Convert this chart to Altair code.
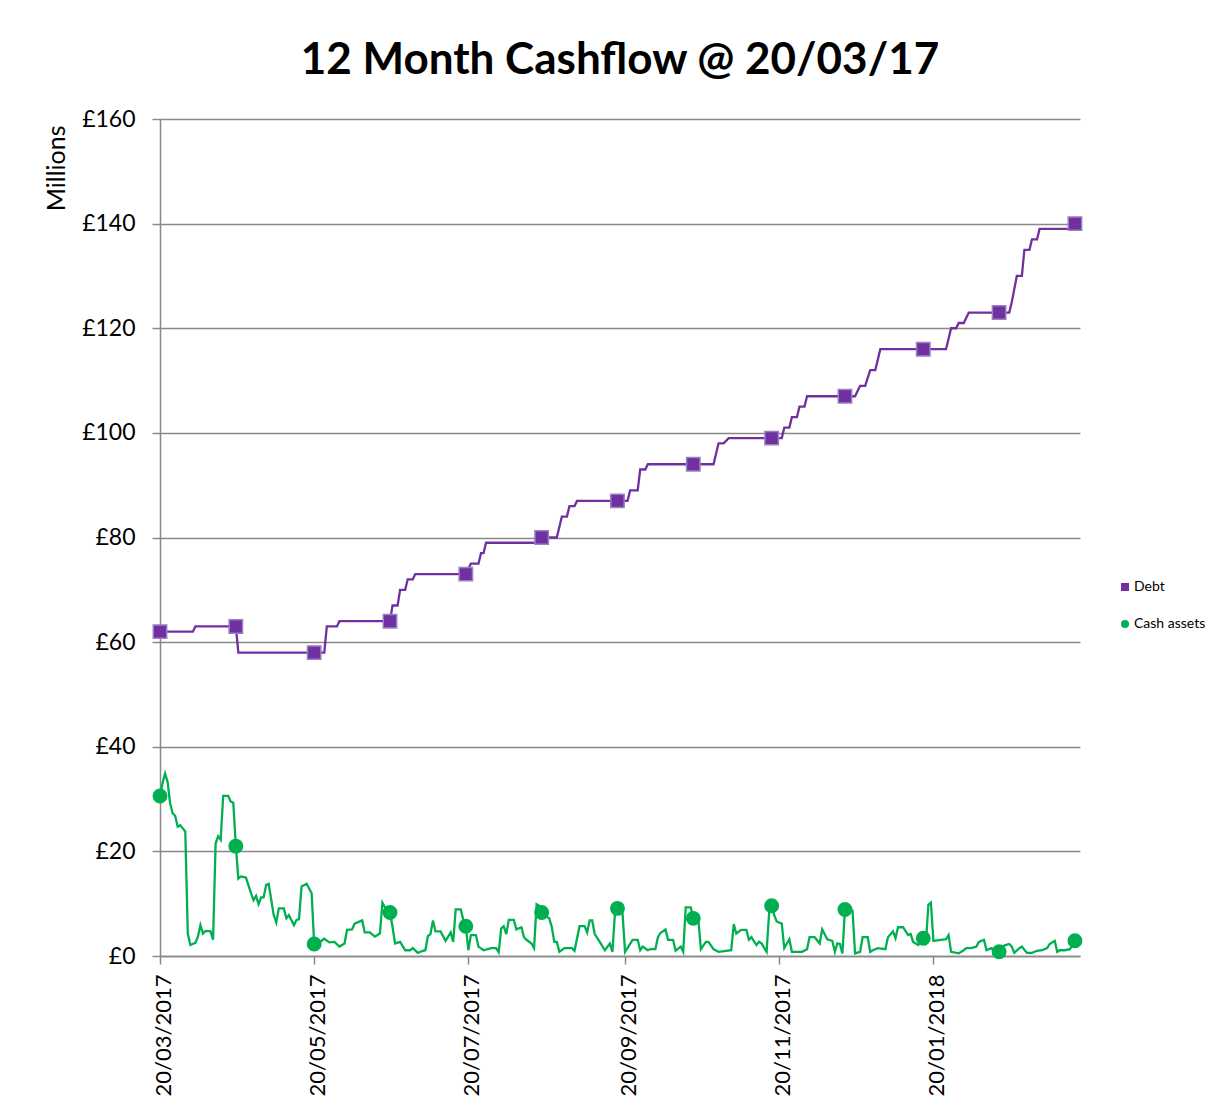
import altair as alt
import pandas as pd

# ---------------- data ----------------
start_date = "2017-03-20"
axis_end_date = "2018-03-19"
tick_dates = ["2017-03-20", "2017-05-20", "2017-07-20", "2017-09-20", "2017-11-20", "2018-01-20"]
y_ticks = [0, 20, 40, 60, 80, 100, 120, 140, 160]

series_names = ["Debt", "Cash assets"]
series_colors = ["#7030A0", "#00B050"]
marker_edge_colors = ["#9B7FC4", "#00B050"]
marker_shapes = ["square", "circle"]

# days (offset from start_date) on which a marker is drawn
marker_days = [0, 30, 61, 91, 121, 151, 181, 211, 242, 271, 302, 332, 362]

# Debt (GBP millions) - vertices of the step line
debt_days = [
    0, 13, 14, 30, 31, 61, 65, 66, 70, 71,
    91, 92, 94, 95, 97, 98, 100, 101, 121, 123,
    126, 127, 128, 129, 150, 151, 157, 159, 161, 162,
    164, 165, 181, 185, 186, 189, 190, 192, 193, 211,
    219, 221, 223, 225, 242, 246, 247, 249, 250, 252,
    253, 255, 256, 271, 275, 277, 279, 281, 283, 285,
    302, 311, 313, 315, 316, 318, 320, 332, 336, 337,
    339, 341, 342, 344, 345, 347, 348, 360, 362,
]
debt_values = [
    62, 62, 63, 63, 58, 58, 58, 63, 63, 64,
    64, 67, 67, 70, 70, 72, 72, 73, 73, 75,
    75, 77, 77, 79, 79, 80, 80, 84, 84, 86,
    86, 87, 87, 87, 89, 89, 93, 93, 94, 94,
    94, 98, 98, 99, 99, 99, 101, 101, 103, 103,
    105, 105, 107, 107, 107, 109, 109, 112, 112, 116,
    116, 116, 120, 120, 121, 121, 123, 123, 123, 125,
    130, 130, 135, 135, 137, 137, 139, 139, 140,
]

# Cash assets (GBP millions)
cash_days = [
    0, 1, 2, 3, 4, 5, 6, 7, 8, 9,
    10, 11, 12, 14, 15, 16, 17, 18, 20, 21,
    22, 23, 24, 25, 27, 28, 29, 30, 31, 32,
    34, 36, 37, 38, 39, 40, 41, 42, 43, 45,
    46, 47, 49, 50, 51, 53, 54, 55, 56, 58,
    59, 60, 61, 63, 65, 67, 69, 71, 73, 74,
    76, 77, 80, 81, 83, 85, 87, 88, 89, 91,
    92, 93, 95, 97, 99, 100, 102, 104, 105, 106,
    107, 108, 109, 111, 113, 115, 116, 117, 119, 120,
    121, 122, 123, 125, 126, 128, 131, 133, 134, 135,
    136, 137, 138, 140, 141, 143, 144, 145, 147, 148,
    149, 150, 151, 154, 155, 156, 157, 158, 160, 163,
    164, 166, 168, 169, 170, 171, 172, 174, 176, 178,
    179, 180, 181, 182, 183, 184, 187, 189, 190, 191,
    193, 194, 196, 197, 198, 200, 201, 203, 204, 206,
    207, 208, 210, 211, 213, 214, 216, 217, 219, 221,
    226, 227, 228, 230, 232, 233, 234, 236, 237, 238,
    240, 241, 242, 243, 244, 246, 247, 249, 250, 254,
    256, 257, 259, 261, 262, 264, 266, 267, 268, 269,
    270, 271, 272, 274, 275, 277, 278, 280, 281, 282,
    284, 287, 288, 290, 291, 292, 294, 296, 297, 298,
    300, 302, 303, 304, 305, 306, 309, 311, 312, 313,
    316, 318, 319, 321, 323, 324, 326, 327, 329, 331,
    332, 334, 336, 337, 338, 340, 341, 343, 345, 347,
    349, 351, 352, 354, 355, 356, 358, 360, 361, 362,
]
cash_values = [
    30.6, 33.0, 34.9, 33.3, 29.2, 27.3, 26.8, 24.7, 25.0, 24.4,
    23.8, 4.3, 2.1, 2.5, 3.7, 5.9, 4.3, 4.8, 4.7, 3.1,
    21.5, 22.9, 22.2, 30.6, 30.6, 29.5, 29.3, 21.0, 14.8, 15.2,
    15.0, 12.0, 10.7, 11.5, 9.9, 11.2, 11.2, 13.6, 13.8, 7.8,
    6.4, 9.1, 9.1, 7.2, 7.8, 5.9, 6.9, 7.0, 13.3, 13.8,
    12.9, 12.0, 2.3, 2.6, 3.3, 2.6, 2.7, 1.8, 2.4, 5.0,
    5.1, 6.2, 6.8, 4.5, 4.5, 3.7, 4.3, 10.2, 9.3, 8.3,
    5.6, 2.4, 2.7, 1.1, 1.1, 1.5, 0.6, 1.0, 1.1, 3.8,
    4.2, 6.8, 4.7, 4.7, 2.9, 4.5, 2.7, 8.9, 8.9, 6.9,
    5.7, 1.1, 4.0, 4.0, 1.8, 1.1, 1.5, 1.5, 0.7, 5.3,
    5.7, 4.2, 6.9, 6.9, 5.1, 5.5, 3.6, 3.1, 2.4, 1.5,
    9.9, 9.6, 8.3, 7.2, 5.6, 2.7, 2.7, 0.8, 1.5, 1.5,
    1.0, 5.7, 5.7, 4.5, 6.8, 6.8, 4.2, 2.7, 1.1, 2.4,
    0.8, 8.2, 9.1, 8.4, 8.2, 0.8, 3.1, 3.1, 1.1, 1.8,
    1.1, 1.3, 1.3, 3.6, 4.4, 5.1, 3.1, 3.1, 1.0, 1.8,
    0.8, 9.3, 9.3, 7.2, 7.0, 1.3, 2.7, 2.7, 1.3, 0.8,
    1.1, 6.1, 4.3, 5.0, 5.0, 3.1, 3.6, 2.1, 2.7, 2.4,
    0.8, 8.2, 9.6, 7.8, 6.6, 6.2, 1.5, 3.2, 0.8, 0.8,
    1.3, 3.6, 3.6, 2.4, 5.1, 3.2, 2.9, 0.8, 2.4, 2.3,
    0.5, 8.9, 9.0, 8.7, 0.5, 0.8, 3.6, 3.6, 0.8, 1.1,
    1.5, 1.3, 3.6, 4.7, 3.4, 5.5, 5.5, 4.0, 4.2, 2.7,
    2.1, 3.4, 2.1, 9.8, 10.2, 2.9, 3.1, 3.2, 4.0, 0.8,
    0.5, 1.1, 1.5, 1.5, 1.8, 2.7, 3.1, 1.1, 1.5, 0.6,
    0.8, 2.0, 2.3, 1.8, 0.6, 1.5, 1.8, 0.6, 0.6, 1.0,
    1.1, 1.5, 2.3, 2.9, 0.8, 1.1, 1.1, 1.3, 2.1, 2.9,
]

# ---------------- build table ----------------
d0 = pd.Timestamp(start_date)


def frame(name, days, values):
    return pd.DataFrame({
        "date": [(d0 + pd.Timedelta(days=d)).strftime("%Y-%m-%d") for d in days],
        "value": values,
        "series": name,
        "marker": [d in marker_days for d in days],
    })


df = pd.concat([
    frame(series_names[0], debt_days, debt_values),
    frame(series_names[1], cash_days, cash_values),
], ignore_index=True)


def ms(s):
    return int(pd.Timestamp(s, tz="UTC").timestamp() * 1000)


FONT = "Lato"
GRID = "#898989"

x_enc = alt.X(
    "date:T",
    scale=alt.Scale(type="utc", domain=[ms(start_date), ms(axis_end_date)], nice=False),
    axis=alt.Axis(
        values=[ms(t) for t in tick_dates],
        labelExpr="utcFormat(datum.value, '%d/%m/%Y')",
        labelAngle=270,
        labelFontSize=22,
        labelFont=FONT,
        labelColor="black",
        labelPadding=10,
        labelOffset=3,
        labelOverlap=False,
        grid=False,
        domainColor=GRID,
        domainWidth=1.5,
        tickColor=GRID,
        tickWidth=1.5,
        tickSize=8,
        title=None,
    ),
)

y_enc = alt.Y(
    "value:Q",
    scale=alt.Scale(domain=[0, 160], nice=False, zero=True),
    axis=alt.Axis(
        values=y_ticks,
        labelExpr="'£' + datum.value",
        labelFontSize=23,
        labelFont=FONT,
        labelColor="black",
        labelPadding=17,
        grid=True,
        gridColor=GRID,
        gridWidth=1.5,
        domainColor=GRID,
        domainWidth=1.5,
        tickColor=GRID,
        tickWidth=1.5,
        tickSize=8,
        title="Millions",
        titleFont=FONT,
        titleFontSize=25,
        titleFontWeight="normal",
        titleColor="black",
        titleAnchor="end",
        titlePadding=12,
        titleY=6,
    ),
)

lines = []
for name, col in zip(series_names, series_colors):
    lines.append(
        alt.Chart(df[df["series"] == name])
        .mark_line(color=col, strokeWidth=2.3)
        .encode(x=x_enc, y=y_enc)
    )

points = (
    alt.Chart(df)
    .transform_filter("datum.marker")
    .mark_point(filled=True, size=180, opacity=1, strokeWidth=1.5)
    .encode(
        x=x_enc,
        y=y_enc,
        color=alt.Color(
            "series:N",
            scale=alt.Scale(domain=series_names, range=series_colors),
            legend=alt.Legend(title=None),
        ),
        shape=alt.Shape(
            "series:N",
            scale=alt.Scale(domain=series_names, range=marker_shapes),
            legend=alt.Legend(title=None),
        ),
        stroke=alt.Stroke(
            "series:N",
            scale=alt.Scale(domain=series_names, range=marker_edge_colors),
            legend=None,
        ),
    )
)

chart = (
    alt.layer(*lines, points)
    .properties(
        width=920,
        height=837,
        title=alt.Title(
            "12 Month Cashflow @ 20/03/17",
            font=FONT,
            fontSize=44,
            fontWeight="bold",
            color="black",
            anchor="middle",
            offset=25,
        ),
        autosize=alt.AutoSizeParams(type="none"),
        padding={"left": 152, "top": 111, "right": 143, "bottom": 150},
    )
    .configure_view(stroke=None)
    .configure_legend(
        orient="none",
        legendX=958,
        legendY=461,
        padding=0,
        symbolSize=64,
        symbolStrokeWidth=0,
        labelFont=FONT,
        labelFontSize=14,
        labelColor="black",
        labelOffset=2,
        rowPadding=23,
    )
)

chart.save("out.html", embed_options={"renderer": "svg", "actions": False})
